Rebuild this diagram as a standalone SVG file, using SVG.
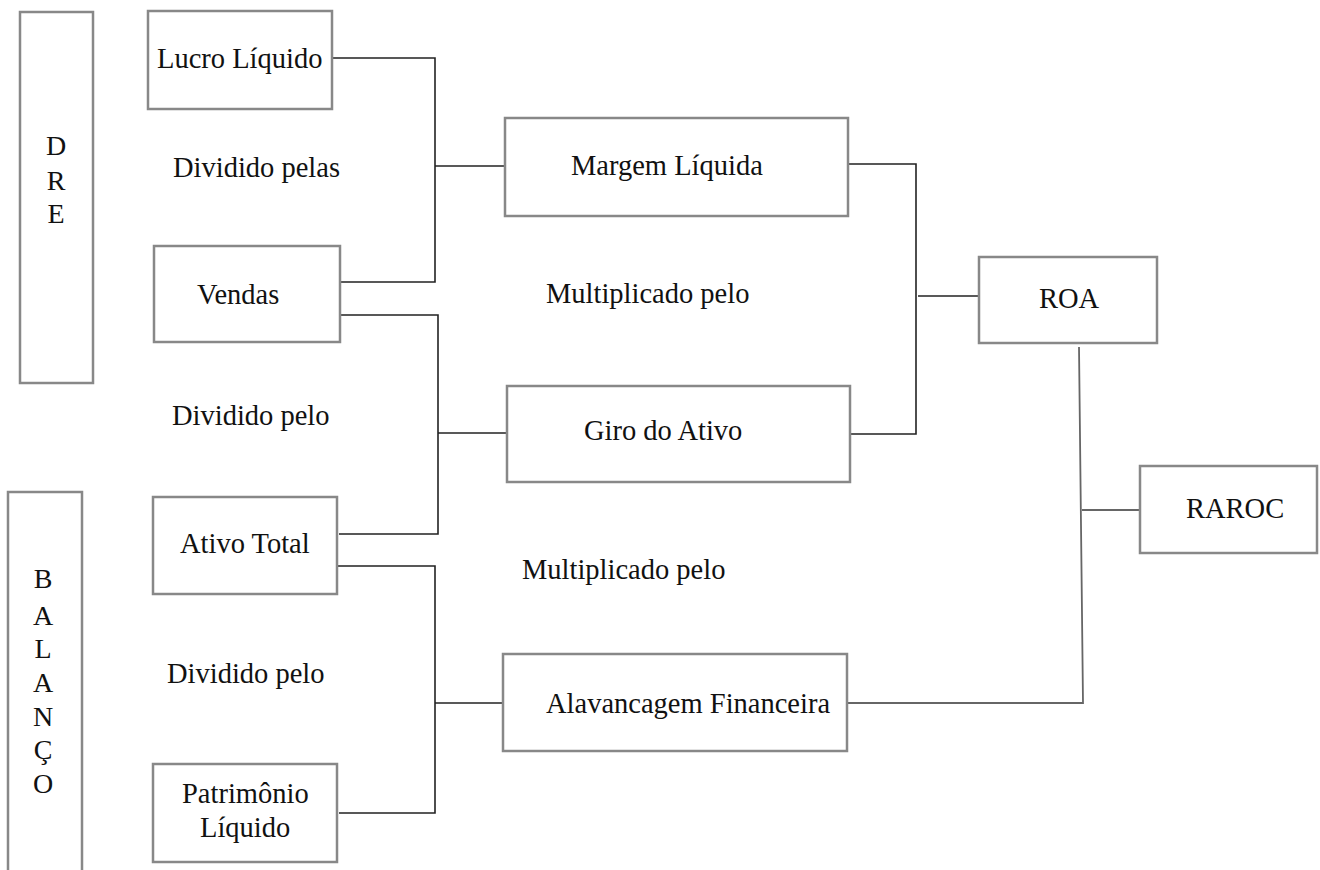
<svg xmlns="http://www.w3.org/2000/svg" width="1320" height="870" viewBox="0 0 1320 870">
<style>
.box{fill:#fff;stroke:#888;stroke-width:2.5}
.t{font-family:"Liberation Serif","Times New Roman",serif;font-size:28.5px;fill:#111}
.v{font-family:"Liberation Serif","Times New Roman",serif;font-size:28px;fill:#111;text-anchor:middle}
.c{fill:none;stroke:#222;stroke-width:1.6}
.cg{fill:none;stroke:#666;stroke-width:1.8}
</style>
<rect width="1320" height="870" fill="#fff"/>
<g id="connectors">
<polyline class="c" points="332,58 435,58 435,282 340,282"/>
<line class="c" x1="435" y1="166" x2="505" y2="166"/>
<polyline class="c" points="340,315 438,315 438,534 339,534"/>
<line class="c" x1="438" y1="433" x2="507" y2="433"/>
<polyline class="c" points="337,566 435,566 435,813 339,813"/>
<line class="c" x1="435" y1="703" x2="503" y2="703"/>
<polyline class="c" points="848,164 916,164 916,434 850,434"/>
<line class="c" x1="918" y1="296" x2="979" y2="296"/>
<polyline class="cg" points="1079,347 1083,703 847,703"/>
<line class="cg" x1="1082" y1="510" x2="1142" y2="510"/>
</g>
<g id="dre">
<rect class="box" x="20" y="12" width="73" height="371"/>
<text class="v" x="56" y="155">D</text>
<text class="v" x="56" y="190">R</text>
<text class="v" x="56" y="223">E</text>
</g>
<g id="balanco">
<rect class="box" x="8" y="492" width="74" height="400"/>
<text class="v" x="43" y="588">B</text>
<text class="v" x="43" y="625">A</text>
<text class="v" x="43" y="658">L</text>
<text class="v" x="43" y="692">A</text>
<text class="v" x="43" y="726">N</text>
<text class="v" x="43" y="759">Ç</text>
<text class="v" x="43" y="793">O</text>
</g>
<g id="lucro-liquido">
<rect class="box" x="148" y="11" width="184" height="98"/>
<text class="t" x="157" y="68">Lucro Líquido</text>
</g>
<g id="vendas">
<rect class="box" x="154" y="246" width="186" height="96"/>
<text class="t" x="197" y="304">Vendas</text>
</g>
<g id="ativo-total">
<rect class="box" x="153" y="497" width="184" height="97"/>
<text class="t" x="180" y="553">Ativo Total</text>
</g>
<g id="patrimonio-liquido">
<rect class="box" x="153" y="764" width="184" height="98"/>
<text class="t" x="182" y="803">Patrimônio</text>
<text class="t" x="200" y="837">Líquido</text>
</g>
<g id="margem-liquida">
<rect class="box" x="505" y="118" width="343" height="98"/>
<text class="t" x="571" y="175">Margem Líquida</text>
</g>
<g id="giro-do-ativo">
<rect class="box" x="507" y="386" width="343" height="96"/>
<text class="t" x="584" y="440">Giro do Ativo</text>
</g>
<g id="alavancagem-financeira">
<rect class="box" x="503" y="654" width="344" height="97"/>
<text class="t" x="546" y="713">Alavancagem Financeira</text>
</g>
<g id="roa">
<rect class="box" x="979" y="257" width="178" height="86"/>
<text class="t" x="1039" y="308">ROA</text>
</g>
<g id="raroc">
<rect class="box" x="1140" y="466" width="177" height="87"/>
<text class="t" x="1186" y="518">RAROC</text>
</g>
<g id="labels">
<text class="t" x="173" y="177">Dividido pelas</text>
<text class="t" x="172" y="425">Dividido pelo</text>
<text class="t" x="167" y="683">Dividido pelo</text>
<text class="t" x="546" y="303">Multiplicado pelo</text>
<text class="t" x="522" y="579">Multiplicado pelo</text>
</g>
</svg>
